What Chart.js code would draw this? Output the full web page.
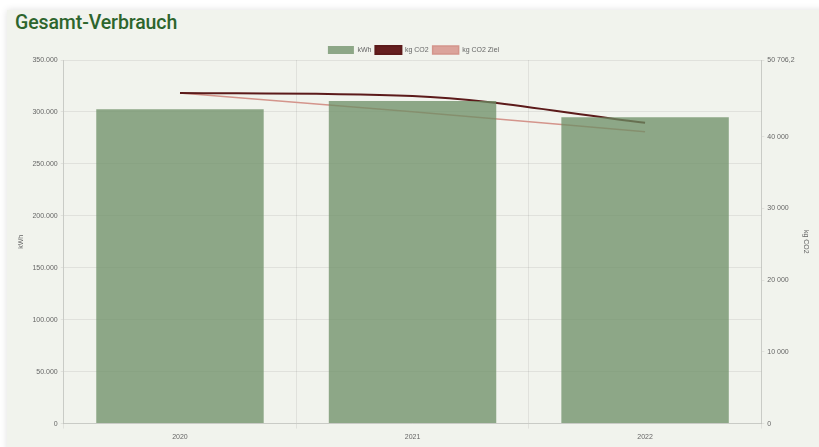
<!DOCTYPE html>
<html>
<head>
<meta charset="utf-8">
<script src="https://cdn.jsdelivr.net/npm/chart.js@4.4.1/dist/chart.umd.min.js"></script>
<style>
  html, body { margin:0; padding:0; background:#ffffff; width:819px; height:447px; overflow:hidden; }
  #card { position:absolute; left:7px; top:10px; width:830px; height:460px; background:#f1f3ed;
          box-shadow: 0 0 7px rgba(0,0,0,0.13); }
  #title { position:absolute; left:15px; top:11px; font-family: Roboto, "Noto Sans", sans-serif;
           font-weight:500; font-size:19.5px; color:#2d652c; letter-spacing:-0.1px; }
  #wrap { position:absolute; left:0; top:0; width:819px; height:447px; }
</style>
</head>
<body>
<div id="card"></div>
<div id="title">Gesamt-Verbrauch</div>
<div id="wrap"><canvas id="c" width="819" height="447"></canvas></div>
<script>
const categories = ["2020", "2021", "2022"];
const kwhValues = [302500, 310500, 294800];
const co2Values = [46096.5, 45680, 41950];
const co2TargetValues = [46096.5, 43500, 40700];
const leftTicks = [0, 50000, 100000, 150000, 200000, 250000, 300000, 350000];
const rightTicks = [0, 10000, 20000, 30000, 40000, 50706.2];

function fmtDE(v) {
  return String(Math.round(v)).replace(/\B(?=(\d{3})+(?!\d))/g, ".");
}
function fmtSpace(v) {
  const parts = String(v).split(".");
  const intPart = parts[0].replace(/\B(?=(\d{3})+(?!\d))/g, " ");
  return parts.length > 1 ? intPart + "," + parts[1] : intPart;
}

const tickFont = { family: "'Liberation Sans', Arial, sans-serif", size: 7 };
const gridColor = "rgba(0,0,0,0.07)";

const legendShrink = {
  id: "legendShrink",
  beforeLayout(chart) {
    const lg = chart.legend;
    if (lg && !lg._shrunk) {
      const f = lg.fit.bind(lg);
      lg.fit = function () { f(); this.height -= 4; };
      lg._shrunk = true;
    }
  }
};

new Chart(document.getElementById("c"), {
  type: "bar",
  data: {
    labels: categories,
    datasets: [
      {
        label: "kWh",
        data: kwhValues,
        backgroundColor: "rgba(107,142,100,0.75)",
        borderWidth: 0,
        yAxisID: "y"
      },
      {
        type: "line",
        label: "kg CO2",
        data: co2Values,
        borderColor: "#5c1a1a",
        backgroundColor: "#641e1e",
        borderWidth: 2,
        pointRadius: 0,
        cubicInterpolationMode: "monotone",
        fill: false,
        yAxisID: "y1"
      },
      {
        type: "line",
        label: "kg CO2 Ziel",
        data: co2TargetValues,
        borderColor: "#d4958c",
        backgroundColor: "#dba39b",
        borderWidth: 1.5,
        pointRadius: 0,
        cubicInterpolationMode: "monotone",
        fill: false,
        yAxisID: "y1"
      }
    ]
  },
  plugins: [legendShrink],
  options: {
    responsive: false,
    animation: false,
    devicePixelRatio: 1,
    layout: { padding: { top: 42, left: 13, right: 5, bottom: 2 } },
    plugins: {
      legend: {
        position: "top",
        labels: { boxWidth: 26, boxHeight: 8, padding: 4, color: "#666", font: tickFont }
      },
      tooltip: { enabled: false }
    },
    scales: {
      x: {
        grid: { color: gridColor, tickLength: 5 },
        border: { color: "rgba(0,0,0,0.1)" },
        ticks: { color: "#666", font: tickFont, padding: 4 }
      },
      y: {
        position: "left",
        min: 0,
        max: 350000,
        afterBuildTicks: (axis) => { axis.ticks = leftTicks.map(v => ({ value: v })); },
        grid: { color: gridColor, tickLength: 3 },
        border: { color: "rgba(0,0,0,0.1)" },
        ticks: { color: "#666", font: tickFont, padding: 3, callback: (v) => fmtDE(v) },
        title: { display: true, text: "kWh", color: "#666", font: tickFont, padding: 4 }
      },
      y1: {
        position: "right",
        min: 0,
        max: rightTicks[rightTicks.length - 1],
        afterBuildTicks: (axis) => { axis.ticks = rightTicks.map(v => ({ value: v })); },
        grid: { drawOnChartArea: false, color: gridColor, tickLength: 3 },
        border: { color: "rgba(0,0,0,0.1)" },
        ticks: { color: "#666", font: tickFont, padding: 3, callback: (v) => fmtSpace(v) },
        title: { display: true, text: "kg CO2", color: "#666", font: tickFont, padding: 4 }
      }
    }
  }
});
</script>
</body>
</html>
